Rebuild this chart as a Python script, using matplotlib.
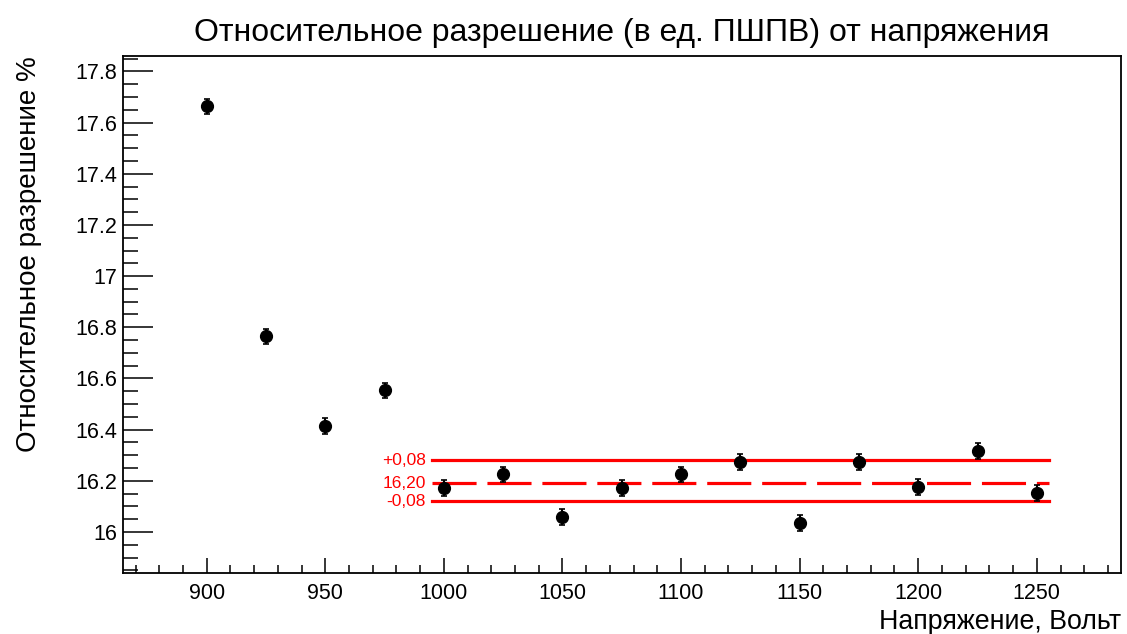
import matplotlib
matplotlib.use("Agg")
import matplotlib.pyplot as plt
from matplotlib.ticker import MultipleLocator, FuncFormatter

plt.rcParams['font.family'] = ['Liberation Sans', 'DejaVu Sans']

voltage = [900, 925, 950, 975, 1000, 1025, 1050, 1075, 1100, 1125, 1150, 1175, 1200, 1225, 1250]
resolution = [17.663, 16.765, 16.414, 16.554, 16.172, 16.226, 16.059, 16.172,
              16.226, 16.273, 16.035, 16.273, 16.176, 16.316, 16.152]
errors = [0.03] * len(voltage)

# band lines: upper, mean, lower
band_values = [16.28, 16.19, 16.12]
band_labels = ["+0,08", "16,20", "-0,08"]
band_x = [995, 1255]

fig = plt.figure(figsize=(11.27, 6.34), dpi=100)
ax = fig.add_axes([122.5 / 1127, 1 - 573 / 634, (1121 - 122.5) / 1127, (573 - 56) / 634])

ax.errorbar(voltage, resolution, yerr=errors, fmt='o', color='black',
            markersize=8.5, elinewidth=1.5, capsize=2, capthick=1.2, zorder=3)

ax.plot(band_x, [band_values[0]] * 2, color='red', lw=2.3)
ax.plot(band_x, [band_values[1]] * 2, color='red', lw=2.3, dashes=(13.8, 3.4))
ax.plot(band_x, [band_values[2]] * 2, color='red', lw=2.3)

for txt, yv in zip(band_labels, band_values):
    ax.text(992.5, yv, txt, color='red', fontsize=12.5, ha='right', va='center')

ax.set_xlim(864.5, 1285.5)
ax.set_ylim(15.84, 17.86)

ax.xaxis.set_major_locator(MultipleLocator(50))
ax.xaxis.set_minor_locator(MultipleLocator(10))
ax.yaxis.set_major_locator(MultipleLocator(0.2))
ax.yaxis.set_minor_locator(MultipleLocator(0.05))
ax.yaxis.set_major_formatter(FuncFormatter(lambda v, p: f"{v:g}"))

ax.tick_params(which='both', direction='in', width=1.1, labelsize=15.5, top=False, right=False)
ax.tick_params(axis='x', which='major', length=11, pad=7)
ax.tick_params(axis='x', which='minor', length=5.5)
ax.tick_params(axis='y', which='major', length=21.5, pad=4)
ax.tick_params(axis='y', which='minor', length=11)
for s in ax.spines.values():
    s.set_linewidth(1.3)

ax.set_title("Относительное разрешение (в ед. ПШПВ) от напряжения", fontsize=23, pad=11)
ax.set_xlabel("Напряжение, Вольт", fontsize=19.3, loc='right', labelpad=4)
ax.set_ylabel("Относительное разрешение %", fontsize=20, loc='top', labelpad=24)

fig.savefig("out.png", dpi=100)
